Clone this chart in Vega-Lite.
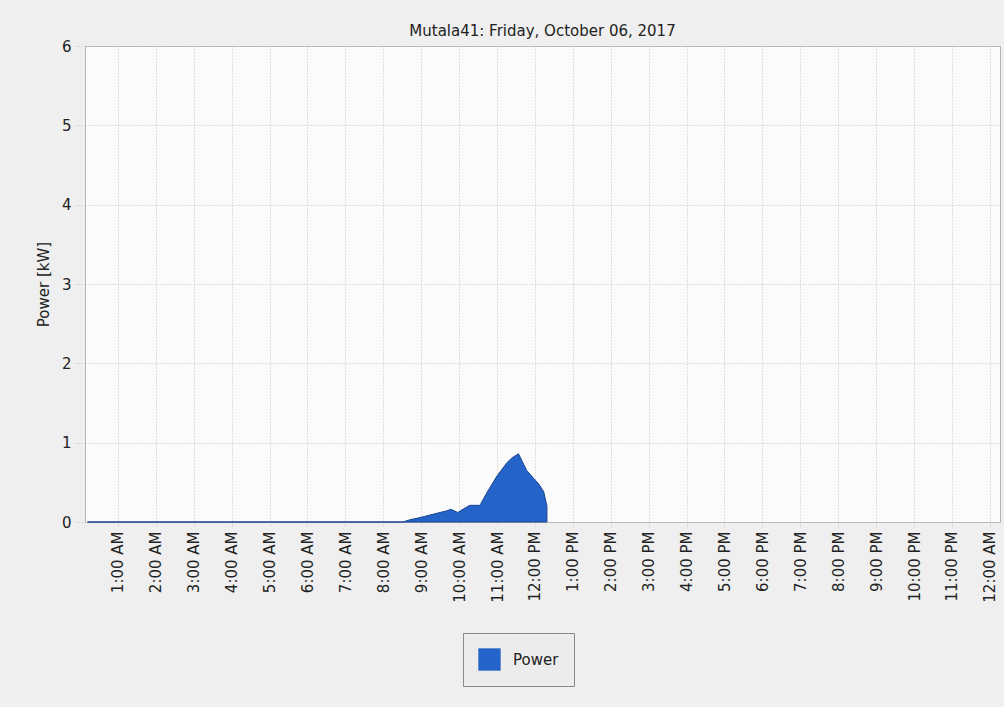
{
  "$schema": "https://vega.github.io/schema/vega-lite/v6.json",
  "autosize": {"type": "none"},
  "width": 915,
  "height": 476,
  "padding": {"left": 85, "top": 46, "right": 4, "bottom": 185},
  "background": "#efefef",
  "title": {
    "text": "Mutala41: Friday, October 06, 2017",
    "font": "DejaVu Sans",
    "fontSize": 15,
    "fontWeight": "normal",
    "color": "#222222",
    "anchor": "middle",
    "offset": 0
  },
  "config": {
    "view": {"stroke": "#b5b5b5", "strokeWidth": 1, "fill": "#fbfbfb"},
    "axis": {
      "labelFont": "DejaVu Sans",
      "titleFont": "DejaVu Sans",
      "labelFontSize": 15,
      "titleFontSize": 15,
      "labelColor": "#222222",
      "titleColor": "#222222",
      "titleFontWeight": "normal",
      "gridColor": "#c0c0c0",
      "gridDash": [1, 2],
      "tickColor": "#c0c0c0",
      "tickDash": [1, 2],
      "domain": false
    }
  },
  "data": {
    "values": [
      {"time": "2017-10-06T00:12:00", "power": 0, "series": "Power"},
      {"time": "2017-10-06T01:00:00", "power": 0, "series": "Power"},
      {"time": "2017-10-06T02:00:00", "power": 0, "series": "Power"},
      {"time": "2017-10-06T03:00:00", "power": 0, "series": "Power"},
      {"time": "2017-10-06T04:00:00", "power": 0, "series": "Power"},
      {"time": "2017-10-06T05:00:00", "power": 0, "series": "Power"},
      {"time": "2017-10-06T06:00:00", "power": 0, "series": "Power"},
      {"time": "2017-10-06T07:00:00", "power": 0, "series": "Power"},
      {"time": "2017-10-06T08:00:00", "power": 0, "series": "Power"},
      {"time": "2017-10-06T08:31:00", "power": 0, "series": "Power"},
      {"time": "2017-10-06T08:43:00", "power": 0.03, "series": "Power"},
      {"time": "2017-10-06T08:55:00", "power": 0.05, "series": "Power"},
      {"time": "2017-10-06T09:05:00", "power": 0.07, "series": "Power"},
      {"time": "2017-10-06T09:25:00", "power": 0.11, "series": "Power"},
      {"time": "2017-10-06T09:40:00", "power": 0.14, "series": "Power"},
      {"time": "2017-10-06T09:47:00", "power": 0.16, "series": "Power"},
      {"time": "2017-10-06T09:58:00", "power": 0.12, "series": "Power"},
      {"time": "2017-10-06T10:10:00", "power": 0.18, "series": "Power"},
      {"time": "2017-10-06T10:17:00", "power": 0.21, "series": "Power"},
      {"time": "2017-10-06T10:33:00", "power": 0.21, "series": "Power"},
      {"time": "2017-10-06T10:44:00", "power": 0.37, "series": "Power"},
      {"time": "2017-10-06T11:00:00", "power": 0.58, "series": "Power"},
      {"time": "2017-10-06T11:16:00", "power": 0.75, "series": "Power"},
      {"time": "2017-10-06T11:24:00", "power": 0.81, "series": "Power"},
      {"time": "2017-10-06T11:34:00", "power": 0.86, "series": "Power"},
      {"time": "2017-10-06T11:47:00", "power": 0.65, "series": "Power"},
      {"time": "2017-10-06T11:58:00", "power": 0.55, "series": "Power"},
      {"time": "2017-10-06T12:06:00", "power": 0.48, "series": "Power"},
      {"time": "2017-10-06T12:14:00", "power": 0.38, "series": "Power"},
      {"time": "2017-10-06T12:19:00", "power": 0.2, "series": "Power"}
    ]
  },
  "mark": {"type": "area", "stroke": "#1b4590", "strokeWidth": 1},
  "encoding": {
    "x": {
      "field": "time",
      "type": "temporal",
      "title": null,
      "scale": {"domain": [{"year": 2017, "month": 10, "date": 6, "hours": 0, "minutes": 8}, {"year": 2017, "month": 10, "date": 7, "hours": 0, "minutes": 16}]},
      "axis": {
        "format": "%-I:%M %p",
        "values": [
          {"year": 2017, "month": 10, "date": 6, "hours": 1},
          {"year": 2017, "month": 10, "date": 6, "hours": 2},
          {"year": 2017, "month": 10, "date": 6, "hours": 3},
          {"year": 2017, "month": 10, "date": 6, "hours": 4},
          {"year": 2017, "month": 10, "date": 6, "hours": 5},
          {"year": 2017, "month": 10, "date": 6, "hours": 6},
          {"year": 2017, "month": 10, "date": 6, "hours": 7},
          {"year": 2017, "month": 10, "date": 6, "hours": 8},
          {"year": 2017, "month": 10, "date": 6, "hours": 9},
          {"year": 2017, "month": 10, "date": 6, "hours": 10},
          {"year": 2017, "month": 10, "date": 6, "hours": 11},
          {"year": 2017, "month": 10, "date": 6, "hours": 12},
          {"year": 2017, "month": 10, "date": 6, "hours": 13},
          {"year": 2017, "month": 10, "date": 6, "hours": 14},
          {"year": 2017, "month": 10, "date": 6, "hours": 15},
          {"year": 2017, "month": 10, "date": 6, "hours": 16},
          {"year": 2017, "month": 10, "date": 6, "hours": 17},
          {"year": 2017, "month": 10, "date": 6, "hours": 18},
          {"year": 2017, "month": 10, "date": 6, "hours": 19},
          {"year": 2017, "month": 10, "date": 6, "hours": 20},
          {"year": 2017, "month": 10, "date": 6, "hours": 21},
          {"year": 2017, "month": 10, "date": 6, "hours": 22},
          {"year": 2017, "month": 10, "date": 6, "hours": 23},
          {"year": 2017, "month": 10, "date": 7, "hours": 0}
        ],
        "labelAngle": -90,
        "labelAlign": "right",
        "labelBaseline": "middle",
        "labelPadding": 3,
        "tickSize": 6,
        "labelOverlap": false,
        "grid": true
      }
    },
    "y": {
      "field": "power",
      "type": "quantitative",
      "title": "Power [kW]",
      "scale": {"domain": [0, 6], "nice": false},
      "axis": {
        "values": [0, 1, 2, 3, 4, 5, 6],
        "tickSize": 10,
        "labelPadding": 4,
        "titlePadding": 10,
        "grid": true
      }
    },
    "color": {
      "field": "series",
      "type": "nominal",
      "scale": {"domain": ["Power"], "range": ["#2463c7"]},
      "legend": {
        "title": null,
        "orient": "none",
        "legendX": 378,
        "legendY": 587,
        "direction": "horizontal",
        "symbolType": "square",
        "symbolSize": 500,
        "symbolStrokeWidth": 0,
        "symbolOpacity": 1,
        "labelFont": "DejaVu Sans",
        "labelFontSize": 15,
        "labelColor": "#222222",
        "labelOffset": 12,
        "padding": 15,
        "strokeColor": "#8a8a8a",
        "fillColor": "#ececec"
      }
    }
  }
}
